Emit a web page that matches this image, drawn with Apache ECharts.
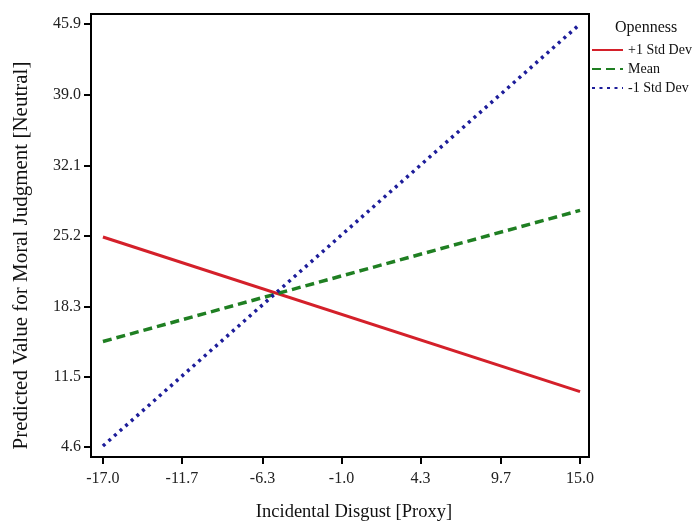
<!DOCTYPE html>
<html>
<head>
<meta charset="utf-8">
<script src="https://cdn.jsdelivr.net/npm/echarts@6/dist/echarts.min.js"></script>
<style>
html,body{margin:0;padding:0;background:#fff;}
#chart{width:698px;height:521px;}
</style>
</head>
<body>
<div id="chart"></div>
<script>
var xValues = [-17.0, 15.0];
var plus1SD = [25.1, 10.0];
var meanVals = [14.9, 27.7];
var minus1SD = [4.7, 45.9];
var seriesNames = ['+1 Std Dev', 'Mean', '-1 Std Dev'];
var xTicks = [-17.0, -11.7, -6.3, -1.0, 4.3, 9.7, 15.0];
var yTicks = [4.6, 11.5, 18.3, 25.2, 32.1, 39.0, 45.9];

function pairs(xs, ys){ return xs.map(function(x,i){ return [x, ys[i]]; }); }

var font = 'Liberation Serif';
var chart = echarts.init(document.getElementById('chart'), null, {renderer:'canvas'});
chart.setOption({
  animation:false,
  backgroundColor:'#fff',
  textStyle:{fontFamily:font},
  title:{text:'Openness', left:610, top:15, textStyle:{fontFamily:font, fontSize:16, fontWeight:'normal', color:'#111'}},
  legend:{
    orient:'vertical', left:586, top:38, itemGap:5, itemWidth:31, itemHeight:3,
    itemStyle:{opacity:0},
    textStyle:{fontFamily:font, fontSize:14, color:'#111'},
    data:seriesNames
  },
  grid:{left:91, right:109, top:14, bottom:64, outerBoundsMode:'none', containLabel:false,
    show:true, borderColor:'#000', borderWidth:2, backgroundColor:'#fff'},
  xAxis:{
    type:'value', min:-17.8, max:15.6,
    name:'Incidental Disgust [Proxy]', nameLocation:'middle', nameGap:46,
    nameTextStyle:{fontFamily:font, fontSize:18.5, color:'#111', padding:[0,0,0,28]},
    axisLine:{show:true, onZero:false, lineStyle:{color:'#000', width:2}},
    axisTick:{show:true, length:7, lineStyle:{color:'#000', width:2}, customValues:xTicks},
    axisLabel:{color:'#222', fontFamily:font, fontSize:16, margin:14, customValues:xTicks,
      formatter:function(v){ return v.toFixed(1); }},
    splitLine:{show:false}
  },
  yAxis:{
    type:'value', min:3.62, max:46.88,
    name:'Predicted Value for Moral Judgment [Neutral]', nameLocation:'middle', nameGap:59,
    nameTextStyle:{fontFamily:font, fontSize:21, color:'#111', padding:[0,40,0,0]},
    axisLine:{show:true, onZero:false, lineStyle:{color:'#000', width:2}},
    axisTick:{show:true, length:7, lineStyle:{color:'#000', width:2}, customValues:yTicks},
    axisLabel:{color:'#222', fontFamily:font, fontSize:16, margin:10, customValues:yTicks,
      formatter:function(v){ return v.toFixed(1); }},
    splitLine:{show:false}
  },
  series:[
    {name:seriesNames[0], type:'line', data:pairs(xValues, plus1SD), showSymbol:false, symbol:'none',
      lineStyle:{color:'#d4202a', width:3, type:'solid'}, itemStyle:{color:'#d4202a'}},
    {name:seriesNames[1], type:'line', data:pairs(xValues, meanVals), showSymbol:false, symbol:'none',
      lineStyle:{color:'#1f7f22', width:3.5, type:[9,5]}, itemStyle:{color:'#1f7f22'}},
    {name:seriesNames[2], type:'line', data:pairs(xValues, minus1SD), showSymbol:false, symbol:'none',
      lineStyle:{color:'#1d1d9a', width:3.5, type:[3,4.5]}, itemStyle:{color:'#1d1d9a'}}
  ]
});
</script>
</body>
</html>
